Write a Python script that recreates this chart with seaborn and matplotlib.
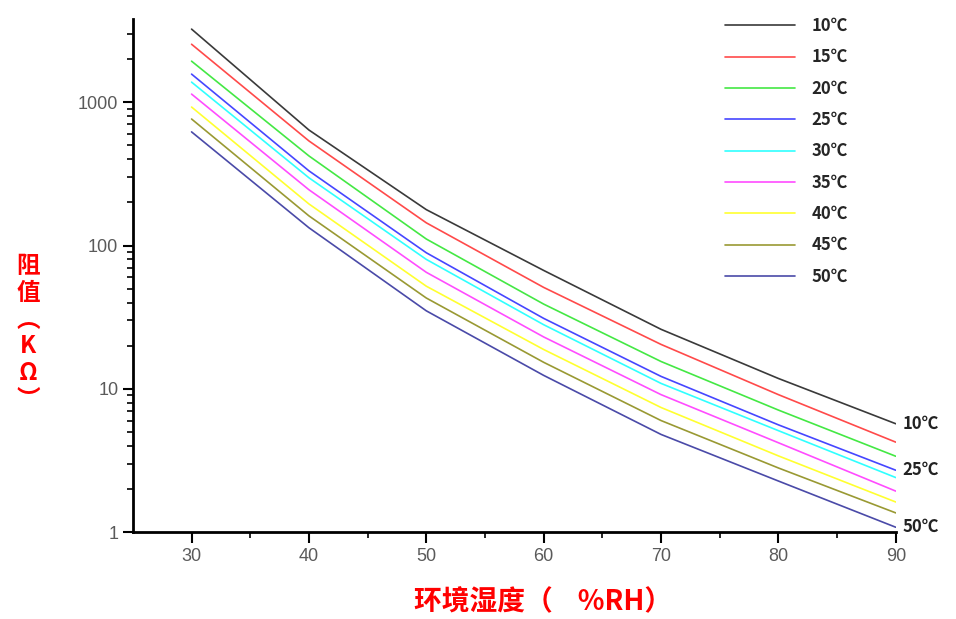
import numpy as np
import pandas as pd
import seaborn as sns
import matplotlib.pyplot as plt
from matplotlib.ticker import LogLocator, FixedLocator, NullFormatter
from matplotlib.font_manager import FontProperties

# ----------------------
# Humidity sensor: resistance vs relative humidity at several temperatures
# ----------------------

humidity = [30, 40, 50, 60, 70, 80, 90]
temps = ["10℃", "15℃", "20℃", "25℃", "30℃", "35℃", "40℃", "45℃", "50℃"]

r_10 = [3240, 640, 178, 67, 26.0, 11.8, 5.7]
r_15 = [2540, 537, 144, 51, 20.4, 9.1, 4.24]
r_20 = [1935, 422, 111, 39, 15.5, 7.1, 3.38]
r_25 = [1572, 332, 89, 31, 12.2, 5.6, 2.7]
r_30 = [1382, 297, 80, 28, 10.9, 5.1, 2.4]
r_35 = [1140, 245, 65, 23, 9.1, 4.2, 1.93]
r_40 = [926, 195, 52, 18.8, 7.4, 3.4, 1.62]
r_45 = [764, 161, 43, 15.3, 6.0, 2.8, 1.36]
r_50 = [621, 133, 35, 12.4, 4.8, 2.27, 1.08]

series = [r_10, r_15, r_20, r_25, r_30, r_35, r_40, r_45, r_50]
colors = ["#3a3a3a", "#ff4a4a", "#44e844", "#4646ff", "#30ffff",
          "#ff4cff", "#ffff30", "#999933", "#4a4aa8"]
end_labels = ["10℃", "25℃", "50℃"]

df = pd.DataFrame({
    "RH": humidity * len(temps),
    "R": [v for s in series for v in s],
    "Temp": [t for t in temps for _ in humidity],
})

sns.set_theme(style="ticks")
plt.rcParams["font.family"] = ["Liberation Sans", "Noto Sans CJK SC", "DejaVu Sans"]

fig = plt.figure(figsize=(9.56, 6.19), dpi=100)
ax = fig.add_axes([0.139, 0.1405, 0.798, 0.8285])

sns.lineplot(data=df, x="RH", y="R", hue="Temp", hue_order=temps,
             palette=colors, linewidth=1.2, ax=ax)

ax.set_yscale("log")
ax.set_xlim(25, 90)
ax.set_ylim(1, 3800)

ax.xaxis.set_major_locator(FixedLocator([30, 40, 50, 60, 70, 80, 90]))
ax.xaxis.set_minor_locator(FixedLocator([35, 45, 55, 65, 75, 85]))
ax.yaxis.set_major_locator(FixedLocator([1, 10, 100, 1000]))
ax.yaxis.set_minor_locator(LogLocator(base=10, subs=np.arange(2, 10)))
ax.yaxis.set_minor_formatter(NullFormatter())
ax.set_yticklabels(["1", "10", "100", "1000"])

ax.tick_params(which="major", direction="out", length=8, width=1.5, color="black",
               labelsize=13, labelcolor="#5a5a5a")
ax.tick_params(which="minor", direction="out", length=4, width=1.2, color="black")
ax.tick_params(axis="y", which="major", length=7)

for side in ["top", "right"]:
    ax.spines[side].set_visible(False)
for side in ["left", "bottom"]:
    ax.spines[side].set_linewidth(2)
    ax.spines[side].set_color("black")

ax.set_xlabel("")
ax.set_ylabel("")
ax.grid(False)

# Legend without frame in upper right
handles, labels = ax.get_legend_handles_labels()
leg_font = FontProperties(family=["Noto Sans CJK SC", "DejaVu Sans"], weight="bold", size=12)
ax.legend(handles, labels, loc="upper left", bbox_to_anchor=(725 / 956, 1 - 17 / 619),
          bbox_transform=fig.transFigure, frameon=False, prop=leg_font,
          handlelength=4.2, handletextpad=1.0, labelspacing=0.8,
          borderpad=0, borderaxespad=0)

# Labels at the ends of selected curves
for lab in end_labels:
    vals = series[temps.index(lab)]
    ax.text(90.6, vals[-1], lab, fontproperties=leg_font, va="center", ha="left",
            color="#222222", clip_on=False)

# Axis titles in red
cjk = ["Noto Sans CJK SC", "DejaVu Sans"]
fig.text(543 / 956, 1 - 602 / 619, "环境湿度（    %RH）", color="red", fontsize=20,
         fontweight="bold", family=cjk, ha="center", va="center")
fig.text(28 / 956, 1 - 333 / 619, "阻\n值\n︵\nK\nΩ\n︶", color="red", fontsize=17,
         fontweight="bold", family=cjk, ha="center", va="center", linespacing=1.15)

plt.savefig("out.png", dpi=100)
